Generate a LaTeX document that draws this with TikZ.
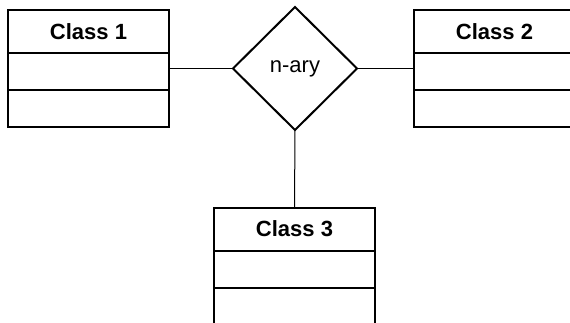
\documentclass[tikz,border=0pt]{standalone}
\usepackage{fontspec}
\setmainfont{Liberation Sans}
\usetikzlibrary{positioning}
\usetikzlibrary{shapes.geometric}

\begin{document}
\begin{tikzpicture}[x=1pt,y=-1pt,line width=2pt,
    every node/.style={draw,rectangle,minimum width=161pt,inner sep=0pt,outer sep=0pt,font=\fontsize{22}{26}\selectfont},
    head/.style={minimum height=43pt,font=\fontsize{22}{26}\selectfont\bfseries},
    part/.style={minimum height=37pt},
    link/.style={line width=1pt}]
  \useasboundingbox (0,0) rectangle (570,322);
  \clip (0,0) rectangle (570,322);
  \foreach \i/\x/\y in {1/88.5/31.5,2/494.5/31.5,3/294.5/229}{
    \node[head] (C\i) at (\x,\y) {Class \i};
    \node[part,below=0pt of C\i] (C\i a) {};
    \node[part,below=0pt of C\i a] (C\i b) {};
  }
  \node[diamond,minimum width=124pt,minimum height=123pt] (N) at (295,68.5) {n-ary};
  \draw[link] (N.west) -- (C1a.east |- N.west);
  \draw[link] (N.east) -- (C2a.west |- N.east);
  \draw[link] (N.south) -- (C3.north);
\end{tikzpicture}
\end{document}
